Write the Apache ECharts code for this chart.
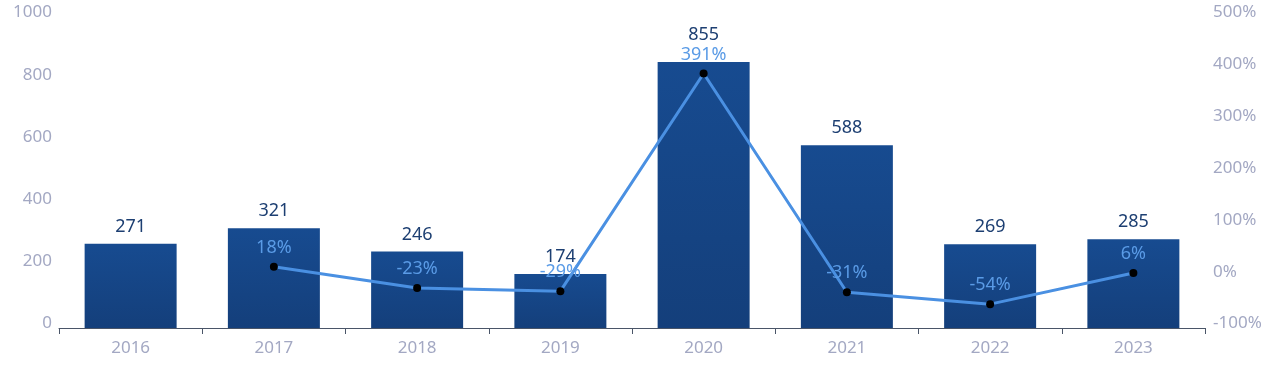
<!DOCTYPE html>
<html>
<head>
<meta charset="utf-8">
<script src="https://cdn.jsdelivr.net/npm/echarts@6/dist/echarts.min.js"></script>
<style>html,body{margin:0;padding:0;background:#fff;}#c{width:1280px;height:382px;}</style>
</head>
<body>
<div id="c"></div>
<script>
var years = ['2016','2017','2018','2019','2020','2021','2022','2023'];
var amounts = [271, 321, 246, 174, 855, 588, 269, 285];
var growth = [null, 18, -23, -29, 391, -31, -54, 6];
var leftTicks = {min: 0, max: 1000, interval: 200};
var rightTicks = {min: -100, max: 500, interval: 100};

var chart = echarts.init(document.getElementById('c'));
var font = '"Noto Sans", sans-serif';
var tickText = {color: '#a3a8c3', fontSize: 17, fontFamily: font, padding: [0, 0, 9, 0]};
var barData = amounts.map(function (v, i) {
  return i === 4 ? {value: v, label: {distance: 18}} : v;
});
chart.setOption({
  animation: false,
  grid: {left: 59, right: 75, top: 17, bottom: 54},
  xAxis: {
    type: 'category',
    data: years,
    boundaryGap: true,
    axisLine: {lineStyle: {color: '#4a5568', width: 1}},
    axisTick: {show: true, length: 6, lineStyle: {color: '#4a5568'}},
    axisLabel: {color: '#a3a8c3', fontSize: 17, fontFamily: font, margin: 12}
  },
  yAxis: [{
    type: 'value',
    min: leftTicks.min, max: leftTicks.max, interval: leftTicks.interval,
    axisLine: {show: false}, axisTick: {show: false},
    splitLine: {show: false},
    axisLabel: {margin: 7, formatter: function (v) { return '{t|' + v + '}'; }, rich: {t: tickText}}
  }, {
    type: 'value',
    min: rightTicks.min, max: rightTicks.max, interval: rightTicks.interval,
    axisLine: {show: false}, axisTick: {show: false},
    splitLine: {show: false},
    axisLabel: {margin: 8, formatter: function (v) { return '{t|' + v + '%}'; }, rich: {t: tickText}}
  }],
  series: [{
    type: 'bar',
    data: barData,
    barWidth: 92,
    itemStyle: {
      color: new echarts.graphic.LinearGradient(0, 0, 0, 1, [
        {offset: 0, color: '#174b90'},
        {offset: 1, color: '#143f7b'}
      ])
    },
    label: {show: true, position: 'top', distance: 8, color: '#1d3f72', fontSize: 18, fontFamily: font}
  }, {
    type: 'line',
    yAxisIndex: 1,
    data: growth,
    connectNulls: false,
    symbol: 'circle',
    symbolSize: 8,
    itemStyle: {color: '#000'},
    lineStyle: {color: '#4a90e2', width: 3},
    label: {show: true, position: 'top', distance: 6, color: '#5a9be6', fontSize: 18, fontFamily: font, formatter: '{c}%'}
  }]
});
</script>
</body>
</html>
